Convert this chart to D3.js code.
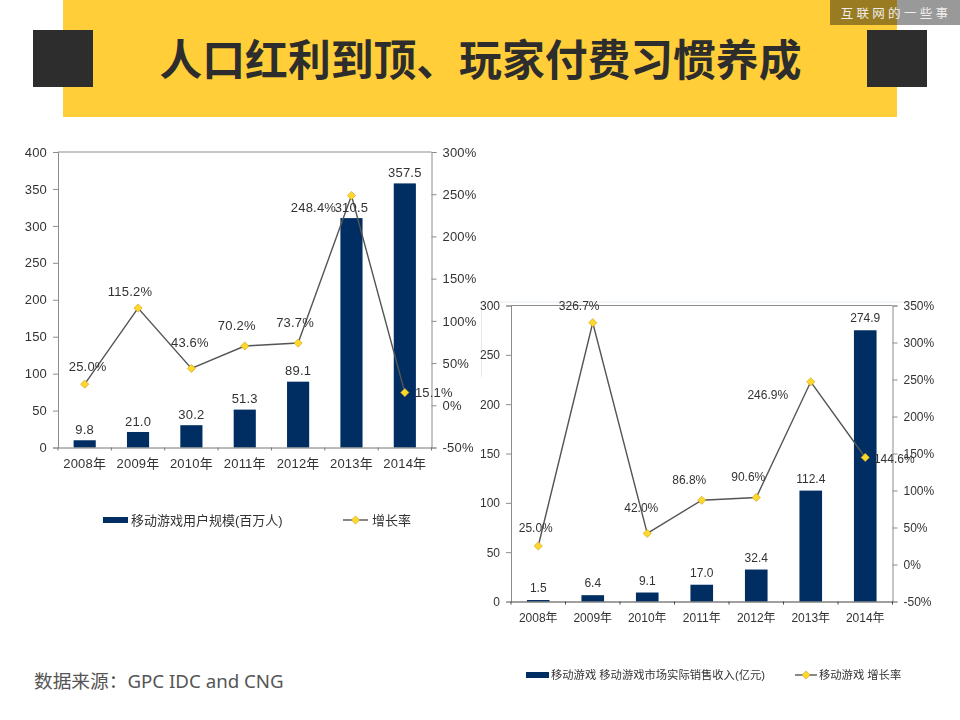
<!DOCTYPE html>
<html><head><meta charset="utf-8">
<script src="https://cdn.jsdelivr.net/npm/d3@7"></script>
<style>html,body{margin:0;padding:0;background:#fff;overflow:hidden}svg{display:block}
text{font-family:"Liberation Sans","Noto Sans CJK SC",sans-serif}</style></head>
<body><svg id="c" width="960" height="720"></svg>
<script>
const years=["2008年","2009年","2010年","2011年","2012年","2013年","2014年"];
const usersValues=[9.8,21.0,30.2,51.3,89.1,310.5,357.5];
const usersGrowth=[25.0,115.2,43.6,70.2,73.7,248.4,15.1];
const usersLeftTicks=[0,50,100,150,200,250,300,350,400];
const usersRightTicks=[-50,0,50,100,150,200,250,300];
const usersBarName="移动游戏用户规模(百万人)";
const usersLineName="增长率";
const revenueValues=[1.5,6.4,9.1,17.0,32.4,112.4,274.9];
const revenueGrowth=[25.0,326.7,42.0,86.8,90.6,246.9,144.6];
const revenueLeftTicks=[0,50,100,150,200,250,300];
const revenueRightTicks=[-50,0,50,100,150,200,250,300,350];
const revenueBarName="移动游戏 移动游戏市场实际销售收入(亿元)";
const revenueLineName="移动游戏 增长率";
const titleText="人口红利到顶、玩家付费习惯养成";
const badgeText="互联网的一些事";
const sourceText="数据来源：GPC IDC and CNG";

const svg=d3.select("#c");
const defs=svg.append("defs");
defs.append("filter").attr("id","soft").attr("x","-5%").attr("y","-5%").attr("width","110%").attr("height","110%")
  .append("feGaussianBlur").attr("stdDeviation",0.5);

// slide header
svg.append("rect").attr("x",63).attr("y",0).attr("width",834).attr("height",117).attr("fill","#FFCE38");
[33,867].forEach(x=>svg.append("rect").attr("x",x).attr("y",30).attr("width",60).attr("height",57).attr("fill","#2D2D2D"));
svg.append("text").attr("x",480.5).attr("y",76).attr("text-anchor","middle").attr("font-size",42.8).attr("font-weight",700)
  .attr("fill","#2D2D2D").style("font-family",'"Noto Sans CJK SC"').text(titleText);
svg.append("rect").attr("x",830).attr("y",0).attr("width",130).attr("height",25).attr("fill","#000").attr("opacity",0.4);
svg.append("text").attr("x",896).attr("y",18).attr("text-anchor","middle").attr("font-size",12.5).attr("letter-spacing",3.3)
  .attr("fill","#EEE").style("font-family",'"Noto Sans CJK SC"').text(badgeText);
svg.append("text").attr("x",34).attr("y",688).attr("font-size",18.7).attr("fill","#555")
  .style("font-family",'"Noto Sans","Noto Sans CJK SC"').text(sourceText);

function chart(o){
  const g=svg.append("g").attr("filter","url(#soft)");
  const x=d3.scaleBand().domain(years).range([o.l,o.r]).paddingInner(0.585).paddingOuter(0.2925);
  const yL=d3.scaleLinear().domain(o.leftDomain).range([o.b,o.t]);
  const yR=d3.scaleLinear().domain(o.rightDomain).range([o.b,o.t]);
  const ax="#8C8C8C", tc="#333";
  // plot top border
  g.append("line").attr("x1",o.l).attr("x2",o.r).attr("y1",o.t).attr("y2",o.t).attr("stroke",ax);
  g.selectAll("rect.bar").data(o.values).join("rect").attr("class","bar")
    .attr("x",(d,i)=>x(years[i])).attr("width",x.bandwidth())
    .attr("y",d=>yL(d)).attr("height",d=>o.b-yL(d)).attr("fill","#002F63");
  const style=(a)=>{a.select(".domain").attr("stroke",ax);a.selectAll(".tick line").attr("stroke",ax);
    a.selectAll("text").attr("font-size",o.fs).attr("fill",tc).attr("letter-spacing",o.ls);a.attr("font-family",null);};
  g.append("g").attr("transform",`translate(${o.l},0)`).call(d3.axisLeft(yL).tickValues(o.leftTicks).tickSize(5).tickPadding(6).tickFormat(d3.format("d"))).call(style);
  g.append("g").attr("transform",`translate(${o.r},0)`).call(d3.axisRight(yR).tickValues(o.rightTicks).tickSize(5).tickPadding(6).tickFormat(d=>d+"%")).call(style);
  const bottom=g.append("g").attr("transform",`translate(0,${o.b})`).call(d3.axisBottom(x).tickSize(0).tickPadding(o.xPad)).call(style);
  bottom.select(".domain").attr("stroke",o.baseColor);
  const edges=x.domain().map(d=>x(d)-x.step()*x.paddingInner()/2).concat([o.r]);
  g.selectAll("line.xt").data(edges).join("line").attr("class","xt")
    .attr("x1",d=>d).attr("x2",d=>d).attr("y1",o.b).attr("y2",o.b+3).attr("stroke",o.baseColor);
  // line
  const cx=i=>x(years[i])+x.bandwidth()/2;
  g.append("path").attr("d",d3.line().x((d,i)=>cx(i)).y(d=>yR(d))(o.growth)).attr("fill","none").attr("stroke","#555").attr("stroke-width",1.4);
  const dia=d3.symbol().type(d3.symbolSquare).size(o.mk);
  g.selectAll("path.mk").data(o.growth).join("path").attr("class","mk").attr("d",dia)
    .attr("transform",(d,i)=>`translate(${cx(i)},${yR(d)}) rotate(45)`).attr("fill","#FFD82B").attr("stroke","#C9A227").attr("stroke-width",0.6);
  // value labels
  g.selectAll("text.v").data(o.values).join("text").attr("class","v")
    .attr("x",(d,i)=>cx(i)).attr("y",d=>yL(d)+o.vdy).attr("dy","0.35em").attr("text-anchor","middle")
    .attr("font-size",o.fs).attr("letter-spacing",o.ls).attr("fill",tc).text(d=>d.toFixed(1));
  // growth labels
  g.selectAll("text.p").data(o.growth).join("text").attr("class","p")
    .attr("x",(d,i)=>cx(i)+o.offs[i][0]).attr("y",(d,i)=>yR(d)+o.offs[i][1]).attr("dy","0.35em").attr("text-anchor","middle")
    .attr("font-size",o.fs).attr("letter-spacing",o.ls).attr("fill",tc).text(d=>d.toFixed(1)+"%");
  // legend
  const L=o.legend;
  g.append("rect").attr("x",L.rx).attr("y",L.y-3).attr("width",L.rw).attr("height",6).attr("fill","#002F63");
  g.append("text").attr("x",L.tx).attr("y",L.y).attr("dy","0.35em").attr("font-size",L.fs).attr("fill",tc).text(o.barName);
  g.append("line").attr("x1",L.lx).attr("x2",L.lx+L.lw).attr("y1",L.y).attr("y2",L.y).attr("stroke","#555").attr("stroke-width",1.4);
  g.append("path").attr("d",dia).attr("transform",`translate(${L.lx+L.lw/2},${L.y}) rotate(45)`).attr("fill","#FFD82B").attr("stroke","#C9A227").attr("stroke-width",0.6);
  g.append("text").attr("x",L.ltx).attr("y",L.y).attr("dy","0.35em").attr("font-size",L.fs).attr("fill",tc).text(o.lineName);
}

// faint edge of the pasted picture behind the second chart
svg.append("path").attr("d","M481.5,377V302H933").attr("fill","none").attr("stroke","#E4ECF2").attr("stroke-width",1);

chart({l:58,r:431.5,t:152,b:447.5,leftDomain:[0,400],rightDomain:[-50,300],leftTicks:usersLeftTicks,rightTicks:usersRightTicks,
  values:usersValues,growth:usersGrowth,barName:usersBarName,lineName:usersLineName,fs:13,ls:0.2,xPad:11,vdy:-11,mk:34,baseColor:"#777",
  offs:[[3,-18],[-8,-17],[-1.5,-26],[-8,-21],[-3,-21],[-38,11.7],[29,0]],
  legend:{y:520,rx:103,rw:25,tx:131,lx:343,lw:25,ltx:372,fs:13}});
chart({l:511,r:892.5,t:305.5,b:601.5,leftDomain:[0,300],rightDomain:[-50,350],leftTicks:revenueLeftTicks,rightTicks:revenueRightTicks,
  values:revenueValues,growth:revenueGrowth,barName:revenueBarName,lineName:revenueLineName,fs:12,ls:0,xPad:12,vdy:-12,mk:34,baseColor:"#444",
  offs:[[-2.5,-18.5],[-13.6,-17],[-6,-25.5],[-12.5,-20.6],[-8,-21],[-43,12.7],[29,1]],
  legend:{y:675,rx:526,rw:23,tx:551,lx:795,lw:22,ltx:819,fs:11.3}});
</script></body></html>
